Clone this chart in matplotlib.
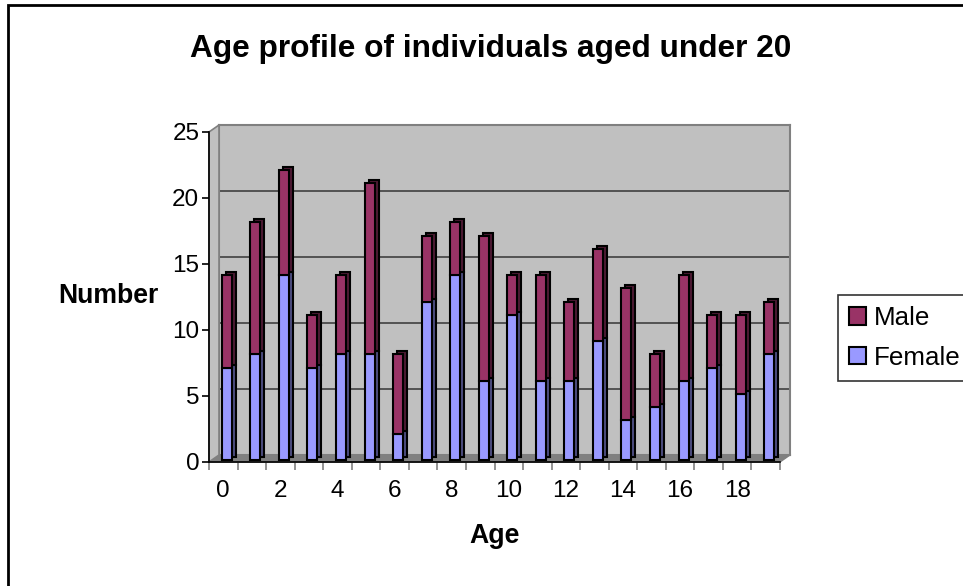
import numpy as np
import matplotlib
matplotlib.use('Agg')
import matplotlib.pyplot as plt
import matplotlib.transforms as mtransforms
from matplotlib.patches import Polygon, Rectangle

plt.rcParams['font.family'] = ['Liberation Sans', 'DejaVu Sans']

ages = list(range(20))
female = [7, 8, 14, 7, 8, 8, 2, 12, 14, 6, 11, 6, 6, 9, 3, 4, 6, 7, 5, 8]
male = [7, 10, 8, 4, 6, 13, 6, 5, 4, 11, 3, 8, 6, 7, 10, 4, 8, 4, 6, 4]
y_ticks = [0, 5, 10, 15, 20, 25]
x_labels = [str(a) for a in range(0, 20, 2)]

female_col = '#9999ff'
female_side = '#4d4d80'
male_col = '#993366'
male_side = '#4d1a33'

W, H = 963, 586
fig = plt.figure(figsize=(W / 100, H / 100), dpi=100)

def px(x0, y0, w, h):
    # pixel box (left, top, width, height) -> figure fraction rect
    return [x0 / W, 1 - (y0 + h) / H, w / W, h / H]

# back wall (offset to fake the 3d depth)
wall = fig.add_axes(px(219, 125, 571, 330))
wall.set_facecolor('#c0c0c0')
wall.set_xlim(-0.5, 19.5)
wall.set_ylim(0, 25)
wall.set_xticks([])
wall.set_yticks([])
for g in y_ticks[1:-1]:
    wall.axhline(g, color='#404040', lw=1.2)
for s in wall.spines.values():
    s.set_color('#808080')
    s.set_linewidth(1.5)

# floor and side wall
def fpoly(pts, **kw):
    p = Polygon([(x / W, 1 - y / H) for x, y in pts], closed=True,
                transform=fig.transFigure, **kw)
    fig.add_artist(p)
    return p

fpoly([(209, 462), (780, 462), (790, 455), (219, 455)], facecolor='#808080',
      edgecolor='#808080', lw=1, zorder=0.5)
fpoly([(209, 462), (219, 455), (219, 125), (209, 132)], facecolor='#c0c0c0',
      edgecolor='#808080', lw=1.2, zorder=0.5)

# main (front) axes
ax = fig.add_axes(px(209, 132, 571, 330))
ax.set_zorder(1)
ax.patch.set_alpha(0)
ax.set_xlim(-0.5, 19.5)
ax.set_ylim(0, 25)

front = mtransforms.offset_copy(ax.transData, fig=fig, x=3.5, y=2, units='dots')
back = mtransforms.offset_copy(ax.transData, fig=fig, x=7.5, y=5, units='dots')

bw = 0.35
female_arr = np.array(female)
male_arr = np.array(male)
ax.bar(ages, female_arr, bw, color=female_side, edgecolor='black', lw=1.5,
       transform=back, zorder=2)
ax.bar(ages, male_arr, bw, bottom=female_arr, color=male_side, edgecolor='black',
       lw=1.5, transform=back, zorder=2)
bf = ax.bar(ages, female_arr, bw, color=female_col, edgecolor='black', lw=1.5,
            transform=front, zorder=3, label='Female')
bm = ax.bar(ages, male_arr, bw, bottom=female_arr, color=male_col,
            edgecolor='black', lw=1.5, transform=front, zorder=3, label='Male')

for s in ['top', 'right']:
    ax.spines[s].set_visible(False)
for s in ['left', 'bottom']:
    ax.spines[s].set_color('black')
    ax.spines[s].set_linewidth(1.2)

ax.set_yticks(y_ticks)
ax.set_yticklabels([str(v) for v in y_ticks])
ax.tick_params(axis='y', direction='out', length=5, width=1.2, labelsize=17.5, pad=2)
ax.set_xticks(range(0, 20, 2))
ax.set_xticklabels(x_labels)
ax.set_xticks(np.arange(-0.5, 20, 1), minor=True)
ax.tick_params(axis='x', which='major', length=0, labelsize=17.5, pad=13)
ax.tick_params(axis='x', which='minor', direction='out', length=6, width=1.2,
               color='#808080')

fig.text(491 / W, 1 - 49 / H, 'Age profile of individuals aged under 20',
         ha='center', va='center', fontsize=22.8, fontweight='bold')
fig.text(108 / W, 1 - 296 / H, 'Number', ha='center', va='center',
         fontsize=19.2, fontweight='bold')
fig.text(495 / W, 1 - 536 / H, 'Age', ha='center', va='center',
         fontsize=19.2, fontweight='bold')

leg = fig.legend([bm, bf], ['Male', 'Female'], loc='upper left',
                 bbox_to_anchor=(838 / W, 1 - 295 / H), fontsize=18.7,
                 frameon=True, fancybox=False, handlelength=0.65,
                 handleheight=0.65, handletextpad=0.3, borderpad=0.43,
                 labelspacing=0.6, borderaxespad=0)
leg.get_frame().set_edgecolor('black')
leg.get_frame().set_linewidth(1.2)

# outer chart border
fig.add_artist(Rectangle((8 / W, -0.1), 1.2, 1.1 - 5 / H, transform=fig.transFigure,
                         fill=False, edgecolor='black', lw=2))

fig.savefig('out.png', dpi=100)
